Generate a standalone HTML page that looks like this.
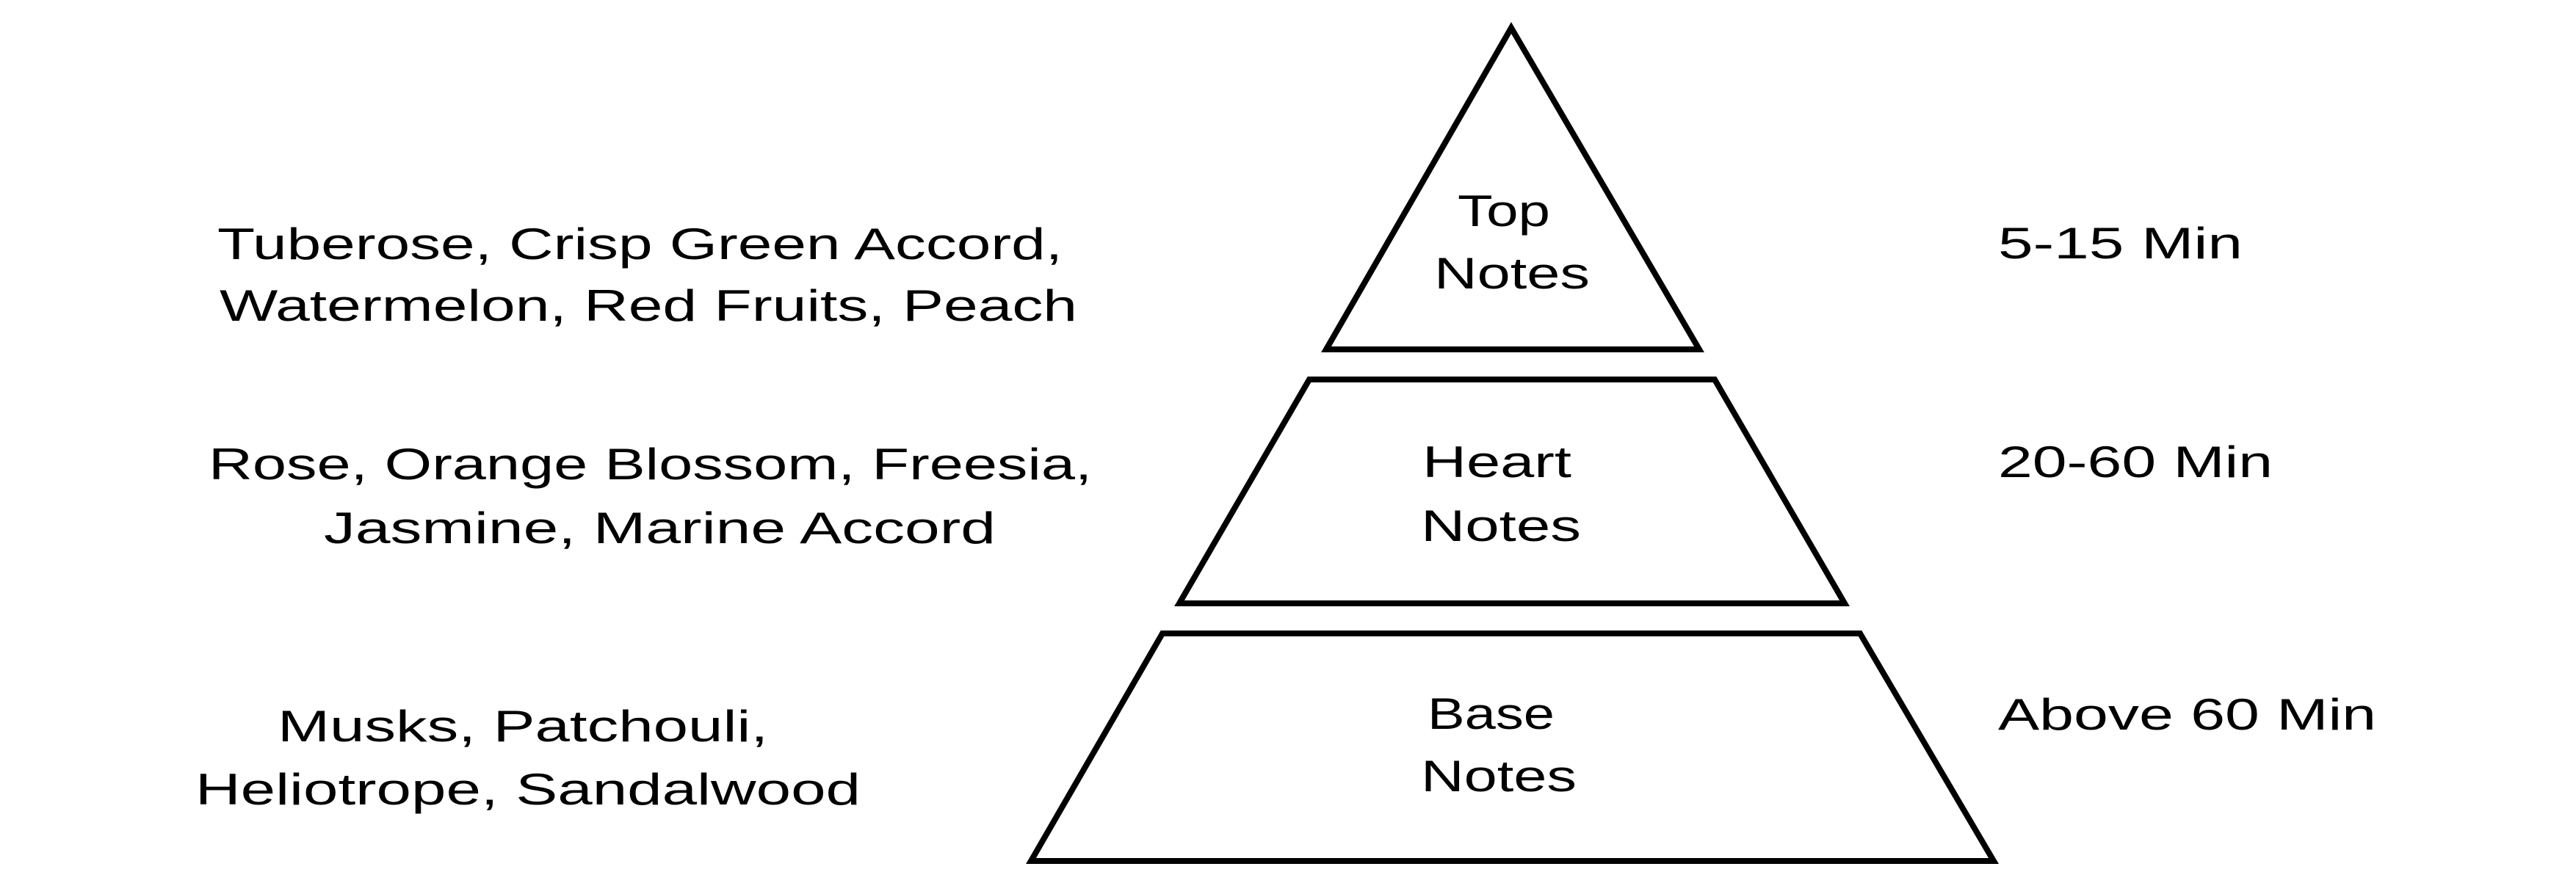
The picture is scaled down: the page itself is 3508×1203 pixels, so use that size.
<!DOCTYPE html>
<html><head><meta charset="utf-8"><style>html,body{margin:0;padding:0;background:#fff}svg{display:block}</style></head>
<body>
<svg width="3508" height="1203" viewBox="0 0 3508 1203" xmlns="http://www.w3.org/2000/svg" font-family="Liberation Sans, sans-serif" font-size="60" fill="#000">
<g fill="none" stroke="#000" stroke-width="8" stroke-linejoin="miter">
<polygon points="2058,38 2314,476 1806,476"/>
<polygon points="1783,517 2335,517 2512,822 1606,822"/>
<polygon points="1583,863 2533,863 2715,1173 1404,1173"/>
</g>
<g>
<text x="296" y="353" textLength="1151" lengthAdjust="spacingAndGlyphs">Tuberose, Crisp Green Accord,</text>
<text x="299" y="437" textLength="1168" lengthAdjust="spacingAndGlyphs">Watermelon, Red Fruits, Peach</text>
<text x="284" y="653" textLength="1203" lengthAdjust="spacingAndGlyphs">Rose, Orange Blossom, Freesia,</text>
<text x="441" y="740" textLength="915" lengthAdjust="spacingAndGlyphs">Jasmine, Marine Accord</text>
<text x="378" y="1010" textLength="668" lengthAdjust="spacingAndGlyphs">Musks, Patchouli,</text>
<text x="266" y="1096" textLength="906" lengthAdjust="spacingAndGlyphs">Heliotrope, Sandalwood</text>
<text x="2721" y="352" textLength="333" lengthAdjust="spacingAndGlyphs">5-15 Min</text>
<text x="2721" y="650" textLength="374" lengthAdjust="spacingAndGlyphs">20-60 Min</text>
<text x="2721" y="994" textLength="515" lengthAdjust="spacingAndGlyphs">Above 60 Min</text>
<text x="1985" y="308" textLength="126" lengthAdjust="spacingAndGlyphs">Top</text>
<text x="1953" y="393" textLength="212" lengthAdjust="spacingAndGlyphs">Notes</text>
<text x="1937" y="650" textLength="203" lengthAdjust="spacingAndGlyphs">Heart</text>
<text x="1935" y="737" textLength="218" lengthAdjust="spacingAndGlyphs">Notes</text>
<text x="1944" y="993" textLength="173" lengthAdjust="spacingAndGlyphs">Base</text>
<text x="1935" y="1078" textLength="212" lengthAdjust="spacingAndGlyphs">Notes</text>
</g>
</svg>
</body></html>
